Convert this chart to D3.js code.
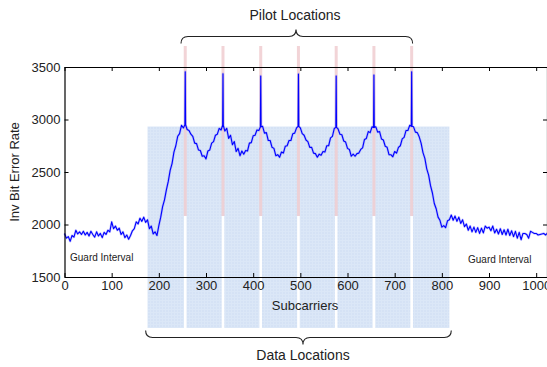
<!DOCTYPE html>
<html>
<head>
<meta charset="utf-8">
<script src="https://cdn.jsdelivr.net/npm/d3@7"></script>
<style>
  html, body { margin: 0; padding: 0; background: #fff; }
  svg { display: block; }
  text { font-family: "Liberation Sans", Arial, sans-serif; fill: #222; }
</style>
</head>
<body>
<div id="chart"></div>
<script>
// Subcarrier sampling (every 4th subcarrier, 0..1024)
const sampleStep = 4;
const invBer = [
  1915,1870,1885,1840,1895,1880,1945,1910,1930,1905,1935,1900,1925,1890,1935,1905,
  1880,1930,1890,1915,1875,1925,1905,1945,1930,2025,1960,1985,1945,1965,1905,1930,
  1875,1900,1860,1895,1940,1960,2025,2005,2060,2030,2070,2020,2045,1960,1985,1910,
  1930,1895,1990,2070,2170,2235,2330,2410,2515,2580,2690,2750,2840,2865,2945,2920,
  2950,2905,2895,2860,2840,2775,2770,2710,2705,2650,2655,2625,2700,2710,2775,2790,
  2850,2860,2915,2900,2945,2890,2915,2820,2850,2760,2790,2695,2725,2655,2700,2670,
  2705,2700,2775,2780,2845,2850,2900,2895,2930,2935,2870,2875,2800,2800,2735,2725,
  2655,2665,2640,2690,2680,2745,2750,2800,2800,2865,2870,2920,2935,2920,2865,2850,
  2805,2790,2735,2735,2680,2675,2640,2670,2660,2695,2690,2750,2750,2825,2840,2915,
  2925,2910,2860,2855,2795,2785,2725,2715,2650,2670,2650,2675,2680,2715,2730,2810,
  2820,2885,2875,2930,2925,2930,2880,2885,2815,2805,2745,2735,2665,2665,2645,2695,
  2680,2735,2750,2815,2830,2895,2895,2945,2935,2930,2880,2875,2835,2775,2685,2630,
  2530,2470,2370,2300,2200,2150,2070,2040,1975,1990,1970,2035,2045,2090,2040,2080,
  2030,2070,2010,2045,1980,2005,1945,1985,1930,1975,1925,1970,1915,1965,1920,1985,
  1965,1975,1940,1985,1920,1955,1910,1960,1905,1950,1900,1955,1895,1940,1885,1935,
  1870,1925,1855,1915,1915,1905,1870,1935,1925,1915,1915,1900,1905,1910,1915,1900,
  1920
];

// Pilot subcarriers and their peak values
const pilotCarriers = [256, 336, 416, 496, 576, 656, 736];
const pilotPeaks = [3455, 3436, 3414, 3433, 3414, 3424, 3455];

// Data-carrier band
const dataBand = [176, 816];

const xTicks = [0, 100, 200, 300, 400, 500, 600, 700, 800, 900, 1000];
const yTicks = [1500, 2000, 2500, 3000, 3500];
const xDomain = [0, 1024];
const yDomain = [1500, 3500];

const W = 547, H = 367;
const plotLeft = 64.5, plotRight = 547.5, plotTop = 67, plotBottom = 277;

const svg = d3.select("#chart").append("svg")
  .attr("width", W).attr("height", H);

const x = d3.scaleLinear().domain(xDomain).range([plotLeft, plotRight]);
const y = d3.scaleLinear().domain(yDomain).range([plotBottom, plotTop]);

// Light blue textured fill for the data band
const defs = svg.append("defs");
const pat = defs.append("pattern").attr("id", "band")
  .attr("patternUnits", "userSpaceOnUse").attr("width", 3).attr("height", 3);
pat.append("rect").attr("width", 3).attr("height", 3).attr("fill", "#d5e2f5");
pat.append("rect").attr("width", 3).attr("height", 1).attr("fill", "#dbe7f7");
pat.append("rect").attr("width", 1).attr("height", 3).attr("fill", "#dbe7f7");

const bandTop = 126.5, bandBottom = 328, markerSplit = 216, pinkTop = 46;

svg.append("rect")
  .attr("x", x(dataBand[0])).attr("y", bandTop)
  .attr("width", x(dataBand[1]) - x(dataBand[0]))
  .attr("height", bandBottom - bandTop)
  .attr("fill", "url(#band)");

// White separators below the pilots
svg.selectAll("rect.gap").data(pilotCarriers).enter().append("rect")
  .attr("class", "gap")
  .attr("x", d => x(d) - 1.3).attr("width", 2.6)
  .attr("y", markerSplit).attr("height", bandBottom - markerSplit)
  .attr("fill", "#fff");

// Pink pilot markers
svg.selectAll("rect.pilot").data(pilotCarriers).enter().append("rect")
  .attr("class", "pilot")
  .attr("x", d => x(d) - 1.5).attr("width", 3)
  .attr("y", pinkTop).attr("height", markerSplit - pinkTop)
  .attr("fill", "#f0cdd0").attr("opacity", 0.85);

// Build the line points, with a narrow spike at each pilot
const points = [];
invBer.forEach((v, i) => {
  const sc = i * sampleStep;
  const pi = pilotCarriers.indexOf(sc);
  if (pi >= 0) {
    points.push([sc - 0.7, v]);
    points.push([sc, pilotPeaks[pi]]);
    points.push([sc + 0.7, v]);
  } else {
    points.push([sc, v]);
  }
});

const line = d3.line().x(d => x(d[0])).y(d => y(d[1]));
// soft halo under the trace
svg.append("path").datum(points)
  .attr("d", line)
  .attr("fill", "none")
  .attr("stroke", "#6a6aff")
  .attr("stroke-opacity", 0.35)
  .attr("stroke-width", 2.4)
  .attr("stroke-linejoin", "round");
svg.append("path").datum(points)
  .attr("d", line)
  .attr("fill", "none")
  .attr("stroke", "#0000ff")
  .attr("stroke-width", 1.1)
  .attr("stroke-linejoin", "round");

// Axes with inward ticks
const fmt = d3.format("d");
const axisStyle = g => {
  g.select(".domain").attr("stroke", "#000").attr("stroke-width", 1.2);
  g.selectAll(".tick line").attr("stroke", "#000").attr("stroke-width", 1);
  g.selectAll(".tick text").style("font-size", "13px").attr("fill", "#222");
};

svg.append("g").attr("transform", `translate(0,${plotBottom})`)
  .call(d3.axisBottom(x).tickValues(xTicks).tickFormat(fmt)
    .tickSizeInner(-4).tickSizeOuter(0).tickPadding(4))
  .call(axisStyle);

svg.append("g").attr("transform", `translate(0,${plotTop})`)
  .call(d3.axisTop(x).tickValues(xTicks).tickFormat("")
    .tickSizeInner(-4).tickSizeOuter(0))
  .call(axisStyle);

svg.append("g").attr("transform", `translate(${plotLeft},0)`)
  .call(d3.axisLeft(y).tickValues(yTicks).tickFormat(fmt)
    .tickSizeInner(-4).tickSizeOuter(0).tickPadding(4))
  .call(axisStyle);

svg.append("g").attr("transform", `translate(${plotRight - 0.5},0)`)
  .call(d3.axisRight(y).tickValues(yTicks).tickFormat("")
    .tickSizeInner(-4).tickSizeOuter(0))
  .call(axisStyle);

// Axis titles
svg.append("text").attr("x", 305).attr("y", 310)
  .attr("text-anchor", "middle").style("font-size", "13px").text("Subcarriers");
svg.append("text")
  .attr("transform", "translate(19,172) rotate(-90)")
  .attr("text-anchor", "middle").style("font-size", "13px").text("Inv Bit Error Rate");

// Guard interval notes
svg.append("text").attr("x", 70).attr("y", 261)
  .style("font-size", "10px").text("Guard Interval");
svg.append("text").attr("x", 468).attr("y", 263)
  .style("font-size", "10px").text("Guard Interval");

// Curly braces
function brace(x1, x2, yLine, tipX, dir) {
  // dir = -1: tip points up (top brace), +1: tip points down (bottom brace)
  const r = 7, t = 7;
  const yEnd = yLine - dir * r;
  return `M${x1},${yEnd}` +
    ` Q${x1},${yLine} ${x1 + r},${yLine}` +
    ` L${tipX - r},${yLine}` +
    ` Q${tipX},${yLine} ${tipX},${yLine + dir * t}` +
    ` Q${tipX},${yLine} ${tipX + r},${yLine}` +
    ` L${x2 - r},${yLine}` +
    ` Q${x2},${yLine} ${x2},${yEnd}`;
}
svg.append("path")
  .attr("d", brace(x(247), x(738), 36.5, 296, -1))
  .attr("fill", "none").attr("stroke", "#222").attr("stroke-width", 1.1);
svg.append("path")
  .attr("d", brace(x(172), x(820), 337.5, 303, 1))
  .attr("fill", "none").attr("stroke", "#222").attr("stroke-width", 1.1);

svg.append("text").attr("x", 295).attr("y", 20)
  .attr("text-anchor", "middle").style("font-size", "14px").text("Pilot Locations");
svg.append("text").attr("x", 303).attr("y", 360)
  .attr("text-anchor", "middle").style("font-size", "14px").text("Data Locations");
</script>
</body>
</html>
